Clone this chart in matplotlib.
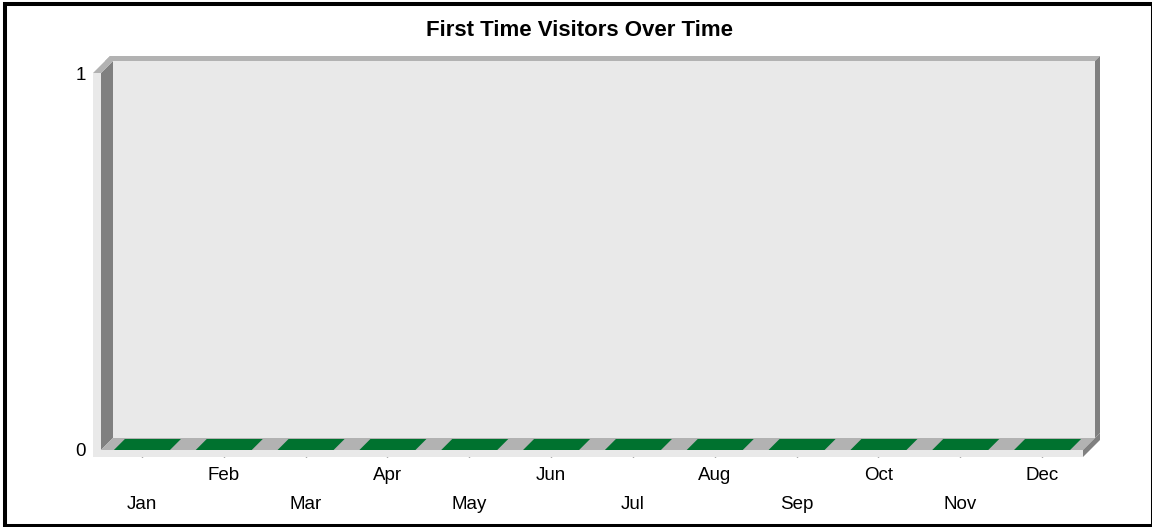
import numpy as np
import matplotlib
matplotlib.use('Agg')
import matplotlib.pyplot as plt
from matplotlib.patches import Polygon, Rectangle
from matplotlib.transforms import IdentityTransform

plt.rcParams['font.family'] = ['Liberation Sans', 'DejaVu Sans']

months = ['Jan', 'Feb', 'Mar', 'Apr', 'May', 'Jun',
          'Jul', 'Aug', 'Sep', 'Oct', 'Nov', 'Dec']
visitors = [0, 0, 0, 0, 0, 0, 0, 0, 0, 0, 0, 0]
y_ticks = [0, 1]

W, H = 1152, 527
fig = plt.figure(figsize=(W / 100, H / 100), dpi=100)
fig.patch.set_facecolor('white')

# front plane of the 3d box
ax = fig.add_axes([101 / W, 77 / H, 982 / W, 377 / H])
ax.set_xlim(-0.5, len(months) - 0.5)
ax.set_ylim(0, 1)
ax.patch.set_visible(False)
for s in ax.spines.values():
    s.set_visible(False)

D = 12    # depth of the plot area (px)
T = 5     # back wall thickness
L = 8     # left wall thickness
F = 7     # floor thickness

light = '#e9e9e9'
mid = '#b2b2b2'
dark = '#808080'
green = '#00722f'


def disp(x, y, d=0.0):
    px, py = ax.transData.transform((x, y))
    return (px + d, py + d)


def face(pts, color, z=1):
    ax.add_patch(Polygon(pts, closed=True, facecolor=color, edgecolor='none',
                         transform=IdentityTransform(), clip_on=False, zorder=z))


x0, x1 = ax.get_xlim()
y0, y1 = ax.get_ylim()
xl, yb = disp(x0, y0)
xr, yt = disp(x1, y1)

# walls and floor
face([(xl + D, yb + D), (xr + D, yb + D), (xr + D, yt + D), (xl + D, yt + D)], light)
face([(xl + D - L, yt + D), (xr + D, yt + D), (xr + D + T, yt + D + T),
      (xl + D - L + T, yt + D + T)], mid)
face([(xr + D, yb + D), (xr + D + T, yb + D + T), (xr + D + T, yt + D + T),
      (xr + D, yt + D)], dark)
face([(xl, yb), (xl + D, yb + D), (xl + D, yt + D), (xl, yt)], dark)
face([(xl, yb), (xr, yb), (xr + D, yb + D), (xl + D, yb + D)], mid)
face([(xr, yb - F), (xr, yb), (xr + D + T, yb + D + T),
      (xr + D + T, yb + D + T - F)], dark)

# bars
bw = 0.685
for i, v in enumerate(visitors):
    fl = disp(i - bw / 2, 0)
    fr = disp(i + bw / 2, 0)
    tl = disp(i - bw / 2, v)
    tr = disp(i + bw / 2, v)
    d1 = D - 1
    face([fl, fr, tr, tl], '#005a24', 1.5)
    face([fr, (fr[0] + d1, fr[1] + d1), (tr[0] + d1, tr[1] + d1), tr], '#004a1e', 1.5)
    face([tl, tr, (tr[0] + d1, tr[1] + d1), (tl[0] + d1, tl[1] + d1)], green, 1.6)

face([(xl - L, yb - F), (xr, yb - F), (xr, yb), (xl - L, yb)], light, 1.7)
face([(xl - L, yb - F), (xl, yb - F), (xl, yt), (xl - L, yt)], light, 1.7)
face([(xl - L, yt), (xl, yt), (xl + D + T, yt + D + T),
      (xl - L + D + T, yt + D + T)], mid, 1.7)

# axes ticks
ax.set_xticks(range(len(months)), months)
ax.set_yticks(y_ticks, [str(t) for t in y_ticks])
ax.tick_params(axis='x', length=5, width=1, color='#5a5a5a', direction='out',
               labelsize=13.5)
ax.tick_params(axis='y', length=0, pad=11, labelsize=13.5)
for i, t in enumerate(ax.xaxis.get_major_ticks()):
    t.set_pad(28 if i % 2 == 0 else 7)

fig.text(579 / W, 1 - 30 / H, 'First Time Visitors Over Time',
         ha='center', va='center', fontsize=16, fontweight='bold')

# outer frame
fig.add_artist(Rectangle((5 / W, 1.5 / H), 1148 / W, 521.5 / H,
                         transform=fig.transFigure, fill=False,
                         edgecolor='black', linewidth=2.9))

fig.savefig('out.png', dpi=100)
